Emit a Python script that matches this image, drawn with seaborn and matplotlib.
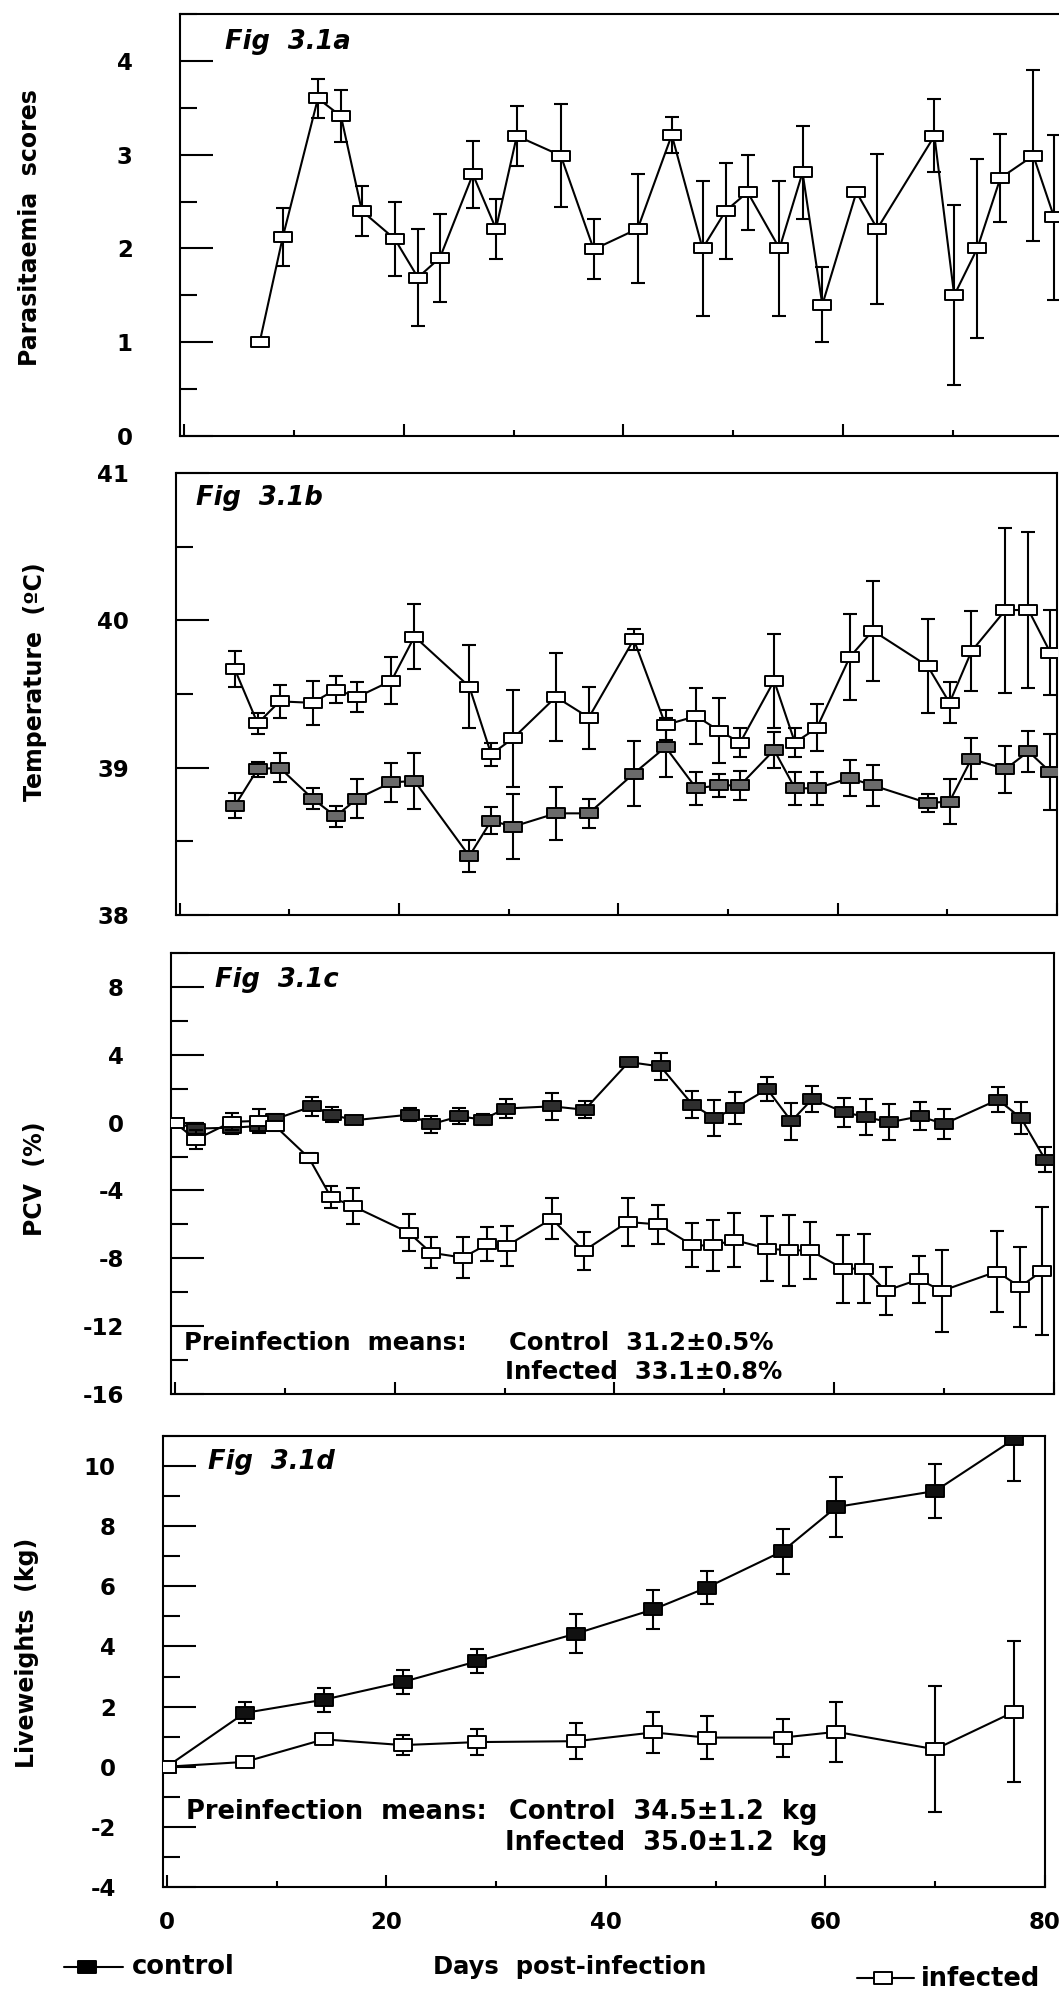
import matplotlib
matplotlib.use("Agg")
import matplotlib.pyplot as plt
import numpy as np
import pandas as pd
import seaborn as sns
from matplotlib.path import Path
from matplotlib.lines import Line2D
from matplotlib.ticker import MultipleLocator, FixedLocator

# ---------------- data ----------------
# Fig 3.1a  parasitaemia scores (infected only)
para_days = [6.9, 9.0, 12.2, 14.3, 16.2, 19.2, 21.3, 23.3, 26.3, 28.4, 30.3, 34.3, 37.3, 41.3,
             44.4, 47.2, 49.3, 51.3, 54.2, 56.3, 58.1, 61.2, 63.1, 68.3, 70.1, 72.2, 74.3, 77.3, 79.2]
para_mean = [1.0, 2.12, 3.60, 3.41, 2.40, 2.10, 1.69, 1.90, 2.79, 2.21, 3.20, 2.99, 1.99, 2.21,
             3.21, 2.00, 2.40, 2.60, 2.00, 2.81, 1.40, 2.60, 2.21, 3.20, 1.50, 2.00, 2.75, 2.99, 2.33]
para_se = [0.0, 0.31, 0.21, 0.28, 0.27, 0.39, 0.52, 0.47, 0.36, 0.32, 0.32, 0.55, 0.32, 0.58,
           0.19, 0.72, 0.51, 0.40, 0.72, 0.50, 0.40, 0.0, 0.80, 0.39, 0.96, 0.95, 0.47, 0.91, 0.88]

# Fig 3.1b  temperature
temp_days = [5.0, 7.1, 9.1, 12.1, 14.2, 16.2, 19.3, 21.4, 26.4, 28.4, 30.4, 34.3, 37.3, 41.4, 44.3,
             47.1, 49.2, 51.1, 54.2, 56.1, 58.1, 61.1, 63.2, 68.2, 70.2, 72.2, 75.3, 77.4, 79.4]
temp_inf_mean = [39.67, 39.30, 39.45, 39.44, 39.53, 39.48, 39.59, 39.89, 39.55, 39.09, 39.20, 39.48,
                 39.34, 39.87, 39.29, 39.35, 39.25, 39.17, 39.59, 39.17, 39.27, 39.75, 39.93, 39.69,
                 39.44, 39.79, 40.07, 40.07, 39.78]
temp_inf_se = [0.12, 0.07, 0.11, 0.15, 0.09, 0.10, 0.16, 0.22, 0.28, 0.08, 0.33, 0.30, 0.21, 0.07,
               0.10, 0.19, 0.22, 0.10, 0.32, 0.10, 0.16, 0.29, 0.34, 0.32, 0.14, 0.27, 0.56, 0.53, 0.29]
temp_con_mean = [38.74, 38.99, 39.00, 38.79, 38.67, 38.79, 38.90, 38.91, 38.40, 38.64, 38.60, 38.69,
                 38.69, 38.96, 39.14, 38.86, 38.88, 38.88, 39.12, 38.86, 38.86, 38.93, 38.88, 38.76,
                 38.77, 39.06, 38.99, 39.11, 38.97]
temp_con_se = [0.085, 0.05, 0.10, 0.07, 0.07, 0.13, 0.13, 0.19, 0.11, 0.09, 0.22, 0.18, 0.10, 0.22,
               0.20, 0.11, 0.08, 0.10, 0.12, 0.11, 0.11, 0.12, 0.14, 0.06, 0.15, 0.14, 0.16, 0.14, 0.26]

# Fig 3.1c  PCV change (%)
pcv_con_days = [0, 1.9, 5.2, 7.7, 9.1, 12.5, 14.3, 16.3, 21.4, 23.3, 25.9, 28.0, 30.1, 34.3, 37.3,
                41.3, 44.2, 47.1, 49.1, 51.0, 53.9, 56.1, 58.0, 60.9, 62.9, 65.0, 67.8, 70.0, 74.9,
                77.0, 79.2]
pcv_con_mean = [0, -0.35, -0.3, -0.2, 0.2, 0.96, 0.47, 0.14, 0.47, -0.1, 0.37, 0.18, 0.83, 0.96, 0.76,
                3.57, 3.31, 1.06, 0.27, 0.86, 1.98, 0.08, 1.39, 0.61, 0.33, 0.02, 0.37, -0.08, 1.35,
                0.27, -2.18]
pcv_con_se = [0, 0.3, 0.4, 0.4, 0.3, 0.55, 0.43, 0.2, 0.4, 0.5, 0.48, 0.35, 0.55, 0.8, 0.5,
              0.15, 0.8, 0.78, 1.05, 0.94, 0.72, 1.1, 0.78, 0.86, 1.05, 1.05, 0.83, 0.9, 0.75, 0.97, 0.74]
pcv_inf_days = [0, 1.9, 5.2, 7.7, 9.1, 12.2, 14.2, 16.2, 21.3, 23.3, 26.2, 28.4, 30.2, 34.3, 37.2,
                41.2, 44.0, 47.1, 49.0, 50.9, 53.9, 55.9, 57.8, 60.8, 62.7, 64.7, 67.7, 69.8, 74.8,
                76.9, 78.9]
pcv_inf_mean = [0, -1.0, 0.05, 0.1, -0.18, -2.08, -4.39, -4.92, -6.49, -7.67, -7.96, -7.18, -7.27,
                -5.67, -7.57, -5.86, -6.0, -7.24, -7.24, -6.92, -7.43, -7.53, -7.53, -8.61, -8.61,
                -9.92, -9.24, -9.92, -8.78, -9.69, -8.75]
pcv_inf_se = [0, 0.55, 0.5, 0.68, 0.3, 0.3, 0.63, 1.05, 1.1, 0.93, 1.2, 1.0, 1.2, 1.2, 1.1,
              1.4, 1.15, 1.3, 1.5, 1.6, 1.9, 2.1, 1.7, 2.0, 2.05, 1.4, 1.4, 2.4, 2.4, 2.35, 3.75]

# Fig 3.1d  liveweight change (kg)
wt_days = [0, 7.1, 14.3, 21.5, 28.3, 37.3, 44.3, 49.2, 56.1, 61.0, 70.0, 77.2]
wt_con_mean = [0, 1.79, 2.23, 2.82, 3.51, 4.43, 5.23, 5.96, 7.17, 8.64, 9.17, 10.9]
wt_con_se = [0, 0.35, 0.40, 0.40, 0.39, 0.65, 0.65, 0.56, 0.75, 1.0, 0.9, 1.4]
wt_inf_mean = [0, 0.16, 0.91, 0.72, 0.82, 0.85, 1.14, 0.97, 0.97, 1.16, 0.58, 1.83]
wt_inf_se = [0, 0.0, 0.12, 0.33, 0.44, 0.60, 0.68, 0.72, 0.63, 1.0, 2.1, 2.35]

x_tick_major = [0, 20, 40, 60, 80]
x_tick_minor = [10, 30, 50, 70]
x_tick_labels = ["0", "20", "40", "60", "80"]

# ---------------- style ----------------
sns.set_theme(style="white")
plt.rcParams.update({
    "font.family": ["DejaVu Sans"],
    "font.weight": "bold",
    "axes.unicode_minus": False,
    "axes.edgecolor": "black",
    "axes.linewidth": 1.5,
    "axes.labelcolor": "black",
    "text.color": "black",
    "xtick.color": "black",
    "ytick.color": "black",
})

W, H = 1059, 1993
fig = plt.figure(figsize=(W / 100, H / 100), dpi=100)
fig.patch.set_facecolor("white")


def px_axes(l, r, t, b):
    return fig.add_axes([l / W, 1 - b / H, (r - l) / W, (b - t) / H])


def fx(x):
    return x / W


def fy(y):
    return 1 - y / H


RECT = Path([(-1, -0.62), (1, -0.62), (1, 0.62), (-1, 0.62), (-1, -0.62)],
            [Path.MOVETO, Path.LINETO, Path.LINETO, Path.LINETO, Path.CLOSEPOLY])


def series(ax, days, mean, se, face, ms=12.5, z=3):
    ax.errorbar(days, mean, yerr=se, fmt="none", ecolor="black", elinewidth=1.5,
                capsize=5, capthick=1.5, zorder=z - 0.5)
    df = pd.DataFrame({"day": days, "value": mean})
    sns.lineplot(data=df, x="day", y="value", ax=ax, color="black", linewidth=1.5,
                 marker=RECT, markersize=ms, markerfacecolor=face, markeredgecolor="black",
                 markeredgewidth=1.4, estimator=None, sort=False, zorder=z, legend=False)


def style(ax, ylim, ymaj, ymin, show_x=False):
    ax.set_xlim(-0.35, 80)
    ax.set_ylim(*ylim)
    ax.set_xlabel("")
    ax.set_ylabel("")
    ax.xaxis.set_major_locator(FixedLocator(x_tick_major))
    ax.xaxis.set_minor_locator(FixedLocator(x_tick_minor))
    ax.yaxis.set_major_locator(MultipleLocator(ymaj))
    ax.yaxis.set_minor_locator(MultipleLocator(ymin))
    ax.tick_params(axis="both", which="both", direction="in", top=False, right=False,
                   left=True, bottom=True, colors="black", labelcolor="black")
    ax.tick_params(axis="y", which="major", length=24, width=1.5, labelsize=16.5, pad=34)
    ax.tick_params(axis="y", which="minor", length=12, width=1.5)
    ax.tick_params(axis="x", which="major", length=9, width=1.5, labelsize=16.5, pad=17)
    ax.tick_params(axis="x", which="minor", length=4, width=1.5)
    if show_x:
        ax.set_xticklabels(x_tick_labels)
    else:
        ax.tick_params(axis="x", labelbottom=False)
    for s in ax.spines.values():
        s.set_visible(True)
        s.set_linewidth(1.5)
        s.set_color("black")
    ax.grid(False)
    ax.set_facecolor("white")


ax_a = px_axes(180, 1063, 14, 436)
ax_b = px_axes(176, 1057, 473, 915)
ax_c = px_axes(171, 1054, 953, 1394)
ax_d = px_axes(163, 1045, 1436, 1887)

# panel a
series(ax_a, para_days, para_mean, para_se, "white")
style(ax_a, (0, 4.5), 1, 0.5)

# panel b
series(ax_b, temp_days, temp_con_mean, temp_con_se, "#6a6a6a", z=3)
series(ax_b, temp_days, temp_inf_mean, temp_inf_se, "white", z=4)
style(ax_b, (38, 41), 1, 0.5)

# panel c
series(ax_c, pcv_con_days, pcv_con_mean, pcv_con_se, "#2e2e2e", z=3)
series(ax_c, pcv_inf_days, pcv_inf_mean, pcv_inf_se, "white", z=4)
style(ax_c, (-16, 10), 4, 2)

# panel d
series(ax_d, wt_days, wt_con_mean, wt_con_se, "#111111", ms=13, z=3)
series(ax_d, wt_days, wt_inf_mean, wt_inf_se, "white", ms=13, z=4)
style(ax_d, (-4, 11), 2, 1, show_x=True)

# panel titles
for (x, y, t) in [(225, 42, "Fig  3.1a"), (196, 498, "Fig  3.1b"),
                  (215, 980, "Fig  3.1c"), (208, 1462, "Fig  3.1d")]:
    fig.text(fx(x), fy(y), t, fontsize=18.5, fontstyle="italic", fontweight="bold",
             ha="left", va="center", color="black")

# y labels
for (x, y, t) in [(30, 228, "Parasitaemia  scores"), (35, 682, "Temperature  (ºC)"),
                  (35, 1179, "PCV  (%)"), (27, 1653, "Liveweights  (kg)")]:
    fig.text(fx(x), fy(y), t, fontsize=17, fontweight="bold", rotation=90,
             ha="center", va="center", color="black")

# preinfection notes
note_c = dict(fontsize=17.5, ha="left", va="center", color="black")
fig.text(fx(184), fy(1343), "Preinfection  means:", **note_c)
fig.text(fx(509), fy(1343), "Control  31.2±0.5%", **note_c)
fig.text(fx(505), fy(1372), "Infected  33.1±0.8%", **note_c)
note_d = dict(fontsize=18.5, ha="left", va="center", color="black")
fig.text(fx(186), fy(1812), "Preinfection  means:", **note_d)
fig.text(fx(509), fy(1812), "Control  34.5±1.2  kg", **note_d)
fig.text(fx(505), fy(1843), "Infected  35.0±1.2  kg", **note_d)

# x label
fig.text(fx(570), fy(1967), "Days  post-infection", fontsize=17.5, ha="center", va="center",
         color="black")

# legend keys
def key(x0, x1, xm, y, face):
    fig.add_artist(Line2D([fx(x0), fx(x1)], [fy(y), fy(y)], transform=fig.transFigure,
                          color="black", lw=1.5))
    fig.add_artist(Line2D([fx(xm)], [fy(y)], transform=fig.transFigure, marker=RECT,
                          markersize=13, markerfacecolor=face, markeredgecolor="black",
                          markeredgewidth=1.4, lw=0))

key(64, 123, 87, 1967, "black")
fig.text(fx(132), fy(1967), "control", fontsize=18.5, ha="left", va="center", color="black")
key(857, 914, 883, 1978, "white")
fig.text(fx(921), fy(1979), "infected", fontsize=18.5, ha="left", va="center", color="black")

fig.savefig("out.png", dpi=100, facecolor="white")
